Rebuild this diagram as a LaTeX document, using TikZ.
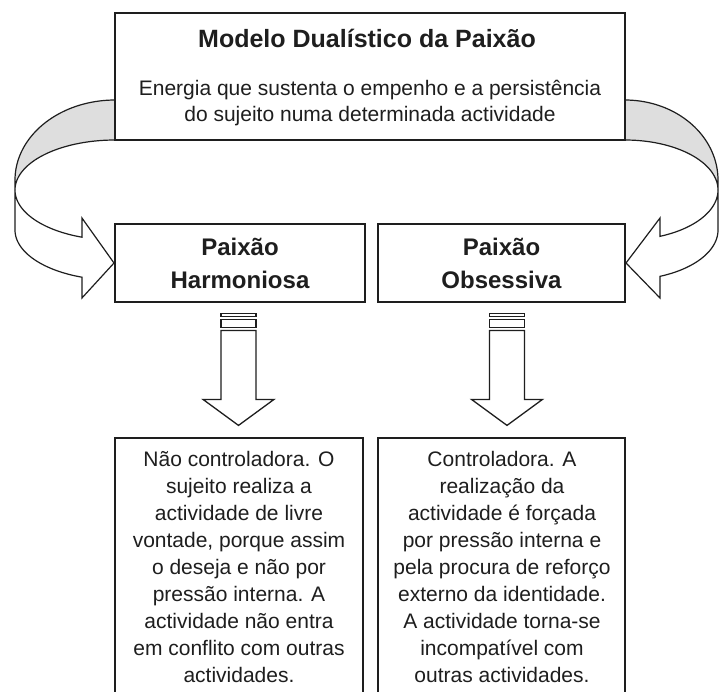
\documentclass[tikz,border=0pt]{standalone}
\usepackage{fontspec}
\setmainfont{Liberation Sans}
\usetikzlibrary{calc}
\definecolor{inkc}{RGB}{30,30,30}
\definecolor{backgray}{RGB}{222,222,222}
\begin{document}
\begin{tikzpicture}[x=1pt,y=-1pt,
  thickbox/.style={draw=inkc, line width=2.8pt, fill=white, inner sep=0pt},
  thinbox/.style={draw=inkc, line width=1.1pt, inner sep=0pt},
  ribbon/.style={draw=inkc, line width=1.2pt, line join=miter},
  bandback/.style={ribbon, fill=backgray},
  bandfront/.style={ribbon, fill=white},
  blockarrow/.style={draw=inkc, line width=1.3pt, fill=white},
  titletext/.style={font=\fontsize{25}{30}\selectfont\bfseries, text=inkc, inner sep=0pt},
  bodytext/.style={font=\fontsize{21}{27}\selectfont, align=center, text=inkc, inner sep=0pt},
  toptext/.style={font=\fontsize{21}{26}\selectfont, align=center, text=inkc, inner sep=0pt},
  headtext/.style={font=\fontsize{24}{33}\selectfont\bfseries, align=center, text=inkc},
  stripedarrow/.pic={
    \draw[blockarrow] (-17.5,10) rectangle (17.5,13);
    \draw[blockarrow] (-17.5,16) rectangle (17.5,24);
    \draw[blockarrow] (-17.5,27) -- (-17.5,96) -- (-35.5,96) -- (0,122)
      -- (35.5,96) -- (17.5,96) -- (17.5,27) -- cycle;
  }]
\fill[white] (0,0) rectangle (720,691);
\useasboundingbox (0,0) rectangle (720,691);

% left curved arrow
\path[bandback] (115,100)
  -- plot[domain=270:180, samples=40] ({115+100*cos(\x)},{180+80*sin(\x)})
  -- plot[domain=180:270, samples=40] ({115+100*cos(\x)},{190+50*sin(\x)})
  -- cycle;
\path[bandfront] (15,190)
  -- plot[domain=180:109.3, samples=40] ({115+100*cos(\x)},{190+50*sin(\x)})
  -- (81.95,218) -- (114,263) -- (81.95,298)
  -- plot[domain=109.3:180, samples=40] ({115+100*cos(\x)},{230+50*sin(\x)})
  -- cycle;

% right curved arrow
\path[bandback] (625,100)
  -- plot[domain=270:360, samples=40] ({625+93*cos(\x)},{180+80*sin(\x)})
  -- plot[domain=360:270, samples=40] ({625+93*cos(\x)},{190+50*sin(\x)})
  -- cycle;
\path[bandfront] (718,190)
  -- plot[domain=0:67.9, samples=40] ({625+93*cos(\x)},{190+50*sin(\x)})
  -- (660,218) -- (626,263) -- (660,298)
  -- plot[domain=67.9:0, samples=40] ({625+93*cos(\x)},{230+50*sin(\x)})
  -- cycle;

% top box
\node[thickbox, minimum width=510pt, minimum height=127pt] (model) at (370,76.5) {};
\node[titletext, anchor=base] (title) at (367,47) {Modelo Dualístico da Paixão};
\node[toptext, anchor=north] (energy) at (370,80.5)
  {Energia que sustenta o empenho e a persistência\\do sujeito numa determinada actividade};

% middle boxes
\node[thickbox, headtext, minimum width=250pt, minimum height=78pt] (harm) at (240,263) {Paixão\\Harmoniosa};
\node[thickbox, headtext, minimum width=247pt, minimum height=78pt] (obs) at (501.5,263) {Paixão\\Obsessiva};

% striped down arrows
\pic at ($(harm.south)+(-1.5,0)$) {stripedarrow};
\pic at ($(obs.south)+(5.5,0)$) {stripedarrow};

% bottom boxes
\node[thinbox, minimum width=248pt, minimum height=280pt] (harmbox) at (239,578) {};
\node[thinbox, minimum width=247pt, minimum height=280pt] (obsbox) at (501.5,578) {};
\node[bodytext, anchor=north] (harmtext) at (239,451.5)
  {Não controladora. O\\sujeito realiza a\\actividade de livre\\vontade, porque assim\\o deseja e não por\\pressão interna. A\\actividade não entra\\em conflito com outras\\actividades.};
\node[bodytext, anchor=north] (obstext) at (502,451.5)
  {Controladora. A\\realização da\\actividade é forçada\\por pressão interna e\\pela procura de reforço\\externo da identidade.\\A actividade torna-se\\incompatível com\\outras actividades.};
\end{tikzpicture}
\end{document}
